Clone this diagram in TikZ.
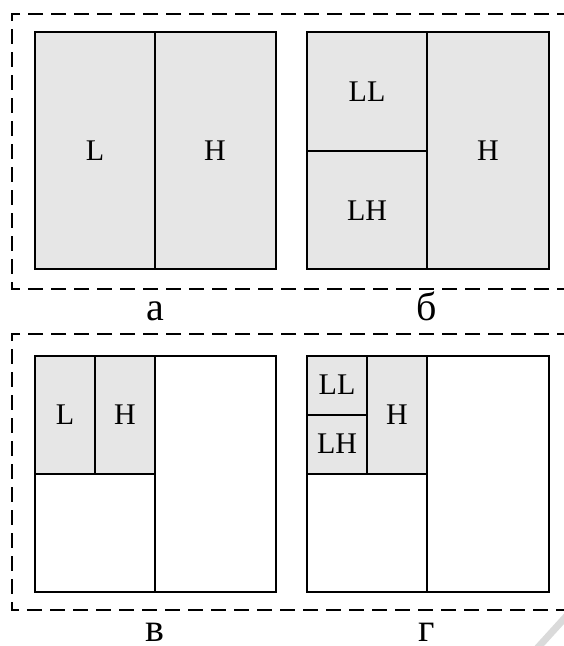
\documentclass[tikz,border=0pt]{standalone}
\usepackage{fontspec}
\setmainfont{Liberation Serif}
\definecolor{cellgray}{HTML}{E6E6E6}
\definecolor{markgray}{HTML}{DADADA}
\tikzset{
  cell/.style={draw=black, line width=2pt, fill=cellgray},
  plain/.style={draw=black, line width=2pt},
  frameline/.style={draw=black, line width=2pt, dash pattern=on 15pt off 8pt},
  lbl/.style={font=\fontsize{30}{32}\selectfont, inner sep=0pt},
  caption/.style={font=\fontsize{40}{42}\selectfont, inner sep=0pt, text depth=0pt},
}
\begin{document}
\begin{tikzpicture}[x=1pt,y=-1pt]
\useasboundingbox (0,0) rectangle (564,646);
% frames
\draw[frameline] (572,14) -- (12,14) -- (12,289) -- (572,289);
\draw[frameline] (572,334) -- (12,334) -- (12,610) -- (572,610);
% a
\draw[cell] (35,32) rectangle (276,269);
\draw[plain] (155,32) -- (155,269);
\node[lbl] (aL) at (95,151) {L};
\node[lbl] (aH) at (215,151) {H};
% b
\draw[cell] (307,32) rectangle (549,269);
\draw[plain] (427,32) -- (427,269);
\draw[plain] (307,151) -- (427,151);
\node[lbl] (bLL) at (367,92) {LL};
\node[lbl] (bLH) at (367,211) {LH};
\node[lbl] (bH) at (488,151) {H};
% v
\draw[plain] (35,356) rectangle (276,592);
\draw[cell] (35,356) rectangle (155,474);
\draw[plain] (155,356) -- (155,592);
\draw[plain] (95,356) -- (95,474);
\node[lbl] (vL) at (65,415) {L};
\node[lbl] (vH) at (125,415) {H};
% g
\draw[plain] (307,356) rectangle (549,592);
\draw[cell] (307,356) rectangle (427,474);
\draw[plain] (427,356) -- (427,592);
\draw[plain] (367,356) -- (367,474);
\draw[plain] (307,415) -- (367,415);
\node[lbl] (gLL) at (337,385) {LL};
\node[lbl] (gLH) at (337,444) {LH};
\node[lbl] (gH) at (397,415) {H};
% captions
\node[caption, anchor=base] (ca) at (155,320) {а};
\node[caption, anchor=base] (cb) at (427,320) {б};
\node[caption, anchor=base] (cv) at (155,641) {в};
\node[caption, anchor=base] (cg) at (427,641) {г};
% corner mark
\draw[markgray, line width=7pt] (532,654) -- (572,610);
\end{tikzpicture}
\end{document}
